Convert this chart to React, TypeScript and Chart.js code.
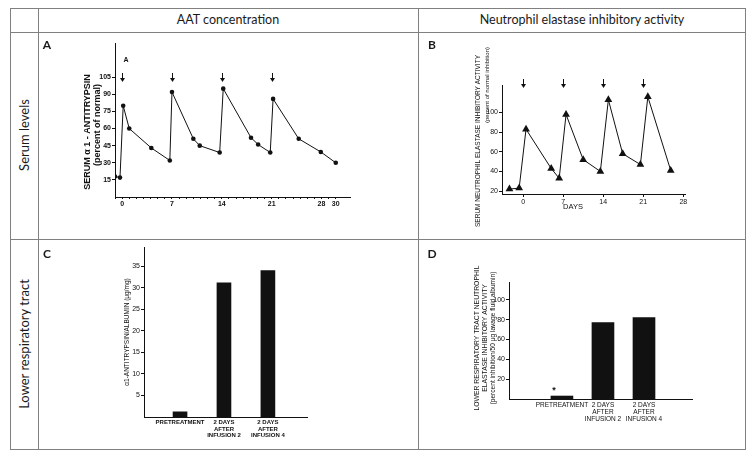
import React, { useEffect, useRef } from 'react';
import { Chart, registerables } from 'chart.js';

Chart.register(...registerables);

// ---------------- Data ----------------
const infusionDays = [0, 7, 14, 21];

// Panel A: serum AAT (percent of normal) vs days
const aatDays = [-1, -0.3, 0.15, 1, 4.1, 6.7, 7, 10, 10.9, 13.7, 14.2, 18.1, 19.1, 20.8, 21.2, 24.8, 27.9, 30];
const aatSerum = [18, 17, 80, 60, 43, 32, 92, 51, 45, 39, 95, 52, 46, 39, 86, 51, 39.5, 30];
const aatXLabels = [0, 7, 14, 21, 28, 30];
const aatYTicks = [15, 30, 45, 60, 75, 90, 105];

// Panel B: serum neutrophil elastase inhibitory activity vs days
const neDays = [-2.4, -0.7, 0.5, 4.9, 6.3, 7.5, 10.5, 13.5, 14.9, 17.4, 20.5, 21.8, 25.8];
const neSerum = [22, 23, 83, 43, 33, 98, 52, 40, 113, 58, 47, 116, 41];
const neXTicks = [0, 7, 14, 21, 28];
const neYTicks = [20, 40, 60, 80, 100];

// Panels C and D: lower respiratory tract
const lavageCategories = [['PRETREATMENT'], ['2 DAYS', 'AFTER', 'INFUSION 2'], ['2 DAYS', 'AFTER', 'INFUSION 4']];
const aatLavage = [1.2, 31.2, 34.0];
const aatLavageYTicks = [5, 10, 15, 20, 25, 30, 35];
const neLavage = [3, 77, 82];
const neLavageYTicks = [20, 40, 60, 80, 100];

// ---------------- Styling helpers ----------------
const SANS = "'Liberation Sans', Arial, Helvetica, sans-serif";
const INK = '#111111';
const RULE = '#808080';

const font = (size: number, weight: string = 'normal', lineHeight: number = 1.2) => ({ family: SANS, size, weight, lineHeight });
const fixedTicks = (values: number[]) => (s: any) => { s.ticks = values.map((v) => ({ value: v })); };

function text(ctx: CanvasRenderingContext2D, str: string, x: number, y: number, f: string, rot = 0) {
  ctx.save();
  ctx.translate(x, y);
  ctx.rotate(rot);
  ctx.font = f;
  ctx.fillStyle = INK;
  ctx.textAlign = 'center';
  ctx.textBaseline = 'middle';
  ctx.fillText(str, 0, 0);
  ctx.restore();
}

function arrow(ctx: CanvasRenderingContext2D, x: number, y1: number, y2: number) {
  const cx = Math.round(x) + 0.5;
  ctx.save();
  ctx.strokeStyle = INK;
  ctx.fillStyle = INK;
  ctx.lineWidth = 1;
  ctx.beginPath();
  ctx.moveTo(cx, y1);
  ctx.lineTo(cx, y2 - 3);
  ctx.stroke();
  ctx.beginPath();
  ctx.moveTo(cx - 2.5, y2 - 4);
  ctx.lineTo(cx + 2.5, y2 - 4);
  ctx.lineTo(cx, y2);
  ctx.closePath();
  ctx.fill();
  ctx.restore();
}

const overlay = (draw: (ctx: CanvasRenderingContext2D, chart: any) => void) => ({
  id: 'overlay',
  afterDraw(chart: any) {
    draw(chart.ctx, chart);
  },
});

const baseOptions = (padding: any) => ({
  responsive: false,
  animation: false,
  events: [],
  layout: { padding },
  plugins: { legend: { display: false }, tooltip: { enabled: false }, title: { display: false } },
});

const border = { display: true, color: INK, width: 1 };

// ---------------- Chart configs ----------------
function configA() {
  return {
    type: 'line',
    data: {
      datasets: [{
        data: aatDays.map((d, i) => ({ x: d, y: aatSerum[i] })),
        borderColor: INK, borderWidth: 1, tension: 0,
        pointRadius: 2.3, pointBackgroundColor: INK, pointBorderColor: INK, pointBorderWidth: 0,
      }],
    },
    options: {
      ...baseOptions({ left: 0, top: 10, right: 67, bottom: 21 }),
      scales: {
        x: {
          type: 'linear', min: -1, max: 32, offset: false,
          afterFit: (s: any) => { s.height = 20; },
          afterBuildTicks: (s: any) => {
            const t = [];
            for (let v = Math.ceil(s.min); v <= 30; v++) t.push({ value: v });
            s.ticks = t;
          },
          ticks: { autoSkip: false, maxRotation: 0, padding: 1, color: INK, font: font(7, 'bold'),
            callback: (v: number) => (aatXLabels.includes(v) ? String(v) : '') },
          grid: { display: true, drawOnChartArea: false, drawTicks: true, tickLength: 2, color: INK, offset: false },
          border,
        },
        y: {
          type: 'linear', min: 0, max: 135,
          afterFit: (s: any) => { s.width = 76; },
          afterBuildTicks: fixedTicks(aatYTicks),
          ticks: { autoSkip: false, padding: 1, color: INK, font: font(7, 'bold') },
          grid: { display: true, drawOnChartArea: false, drawTicks: true, tickLength: 3, color: INK },
          border,
        },
      },
    },
    plugins: [overlay((ctx, chart) => {
      const x = chart.scales.x;
      const top = chart.chartArea.top;
      infusionDays.forEach((d) => arrow(ctx, x.getPixelForValue(d), top + 30, top + 39));
      text(ctx, 'A', x.getPixelForValue(infusionDays[0]) + 4, top + 17, `bold 7px ${SANS}`);
      text(ctx, 'SERUM \u03b1 1 - ANTITRYPSIN', 49, 99, `bold 9px ${SANS}`, -Math.PI / 2);
      text(ctx, '(percent of normal)', 59, 92, `bold 9px ${SANS}`, -Math.PI / 2);
    })],
  };
}

function configB() {
  return {
    type: 'line',
    data: {
      datasets: [{
        data: neDays.map((d, i) => ({ x: d, y: neSerum[i] })),
        borderColor: INK, borderWidth: 1, tension: 0,
        pointStyle: 'triangle', pointRadius: 4.5, pointBackgroundColor: INK, pointBorderColor: INK, pointBorderWidth: 0,
      }],
    },
    options: {
      ...baseOptions({ left: 0, top: 52, right: 59, bottom: 29 }),
      scales: {
        x: {
          type: 'linear', min: -3.7, max: 28.3, offset: false,
          afterFit: (s: any) => { s.height = 15; },
          afterBuildTicks: fixedTicks(neXTicks),
          ticks: { autoSkip: false, maxRotation: 0, padding: 1, color: INK, font: font(7) },
          grid: { display: true, drawOnChartArea: false, drawTicks: true, tickLength: 3, color: INK, offset: false },
          border,
        },
        y: {
          type: 'linear', min: 17, max: 128,
          afterFit: (s: any) => { s.width = 83; },
          afterBuildTicks: fixedTicks(neYTicks),
          ticks: { autoSkip: false, padding: 1, color: INK, font: font(7) },
          grid: { display: true, drawOnChartArea: false, drawTicks: true, tickLength: 3, color: INK },
          border,
        },
      },
    },
    plugins: [overlay((ctx, chart) => {
      const x = chart.scales.x;
      const top = chart.chartArea.top;
      infusionDays.forEach((d) => arrow(ctx, x.getPixelForValue(d), top - 6, top + 3));
      text(ctx, 'SERUM NEUTROPHIL ELASTASE INHIBITORY ACTIVITY', 59, 108, `6.5px ${SANS}`, -Math.PI / 2);
      text(ctx, '(percent of normal inhibition)', 68, 52, `6px ${SANS}`, -Math.PI / 2);
      text(ctx, 'DAYS', 154, 174, `7.5px ${SANS}`);
    })],
  };
}

function barConfig(values: number[], yMax: number, yTicks: number[], xMin: number, xMax: number, thickness: number,
  padding: any, yWidth: number, xHeight: number, labelFont: any, labelPad: number, draw: any) {
  return {
    type: 'bar',
    data: {
      datasets: [{
        data: values.map((v, i) => ({ x: i, y: v })),
        backgroundColor: INK, borderWidth: 0, barThickness: thickness,
      }],
    },
    options: {
      ...baseOptions(padding),
      scales: {
        x: {
          type: 'linear', min: xMin, max: xMax, offset: false,
          afterFit: (s: any) => { s.height = xHeight; },
          afterBuildTicks: fixedTicks(lavageCategories.map((_, i) => i)),
          ticks: { autoSkip: false, maxRotation: 0, padding: labelPad, color: INK, font: labelFont,
            callback: (v: number) => lavageCategories[v] },
          grid: { display: false, drawTicks: false, offset: false },
          border,
        },
        y: {
          type: 'linear', min: 0, max: yMax,
          afterFit: (s: any) => { s.width = yWidth; },
          afterBuildTicks: fixedTicks(yTicks),
          ticks: { autoSkip: false, padding: 1, color: INK, font: font(7) },
          grid: { display: true, drawOnChartArea: false, drawTicks: true, tickLength: 3, color: INK },
          border,
        },
      },
    },
    plugins: [overlay(draw)],
  };
}

function configC() {
  return barConfig(aatLavage, 39.5, aatLavageYTicks, -0.82, 2.89, 14,
    { left: 0, top: 7, right: 110, bottom: 6 }, 105, 25, font(6, 'bold', 1.1), 2,
    (ctx: CanvasRenderingContext2D) => {
      text(ctx, '\u03b11-ANTITRYPSIN/ALBUMIN (\u03bcg/mg)', 88, 92, `6.5px ${SANS}`, -Math.PI / 2);
    });
}

function configD() {
  return barConfig(neLavage, 118, neLavageYTicks, -1.29, 3.17, 22,
    { left: 0, top: 42, right: 52, bottom: 19 }, 90, 30, font(6.5, 'normal', 1.15), 2,
    (ctx: CanvasRenderingContext2D, chart: any) => {
      const x = chart.scales.x;
      const y = chart.scales.y;
      text(ctx, 'LOWER RESPIRATORY TRACT NEUTROPHIL', 58, 98, `6.8px ${SANS}`, -Math.PI / 2);
      text(ctx, 'ELASTASE INHIBITORY ACTIVITY', 66, 98, `6.8px ${SANS}`, -Math.PI / 2);
      text(ctx, '(percent inhibition/50 \u03bcg lavage fluid albumin)', 74, 98, `6.6px ${SANS}`, -Math.PI / 2);
      text(ctx, '*', x.getPixelForValue(0) - 8, y.getPixelForValue(neLavage[0]) - 6, `bold 9px ${SANS}`);
    });
}

// ---------------- Components ----------------
function ChartCanvas({ left, top, width, height, build }: any) {
  const ref = useRef<HTMLCanvasElement | null>(null);
  useEffect(() => {
    const chart = new Chart(ref.current as HTMLCanvasElement, build() as any);
    return () => chart.destroy();
  }, []);
  return (
    <canvas ref={ref} width={width} height={height}
      style={{ position: 'absolute', left, top, width, height, display: 'block' }} />
  );
}

function Rule({ x, y, w, h }: any) {
  return <div style={{ position: 'absolute', left: x, top: y, width: w, height: h, background: RULE }} />;
}

function Label({ x, y, children, size = 12, weight = 400, rotate = 0 }: any) {
  return (
    <div style={{
      position: 'absolute', left: x, top: y, whiteSpace: 'nowrap',
      transform: `translate(-50%, -50%) rotate(${rotate}deg)`,
      fontFamily: 'Lato, "Open Sans", sans-serif', fontSize: size, fontWeight: weight, color: '#1a1a1a', lineHeight: 1,
    }}>{children}</div>
  );
}

export default function App() {
  return (
    <div style={{ position: 'absolute', left: 0, top: 0, width: 755, height: 457, background: '#fff', overflow: 'hidden' }}>
      <Rule x={10} y={8} w={736} h={1} />
      <Rule x={10} y={32} w={736} h={1} />
      <Rule x={10} y={239} w={736} h={1} />
      <Rule x={10} y={449} w={736} h={1} />
      <Rule x={10} y={8} w={1} h={442} />
      <Rule x={38} y={8} w={1} h={442} />
      <Rule x={418} y={8} w={1} h={442} />
      <Rule x={745} y={8} w={1} h={442} />

      <Label x={228} y={20} size={12.5}>AAT concentration</Label>
      <Label x={582} y={20} size={12.5}>Neutrophil elastase inhibitory activity</Label>
      <Label x={24} y={135} size={13} rotate={-90}>Serum levels</Label>
      <Label x={24} y={344} size={13} rotate={-90}>Lower respiratory tract</Label>

      <ChartCanvas left={39} top={33} width={378} height={205} build={configA} />
      <ChartCanvas left={419} top={33} width={325} height={205} build={configB} />
      <ChartCanvas left={39} top={240} width={378} height={208} build={configC} />
      <ChartCanvas left={419} top={240} width={325} height={208} build={configD} />

      <Label x={47} y={45} size={12} weight={700}>A</Label>
      <Label x={432} y={45} size={12} weight={700}>B</Label>
      <Label x={47} y={254} size={12} weight={700}>C</Label>
      <Label x={432} y={254} size={12} weight={700}>D</Label>
    </div>
  );
}
